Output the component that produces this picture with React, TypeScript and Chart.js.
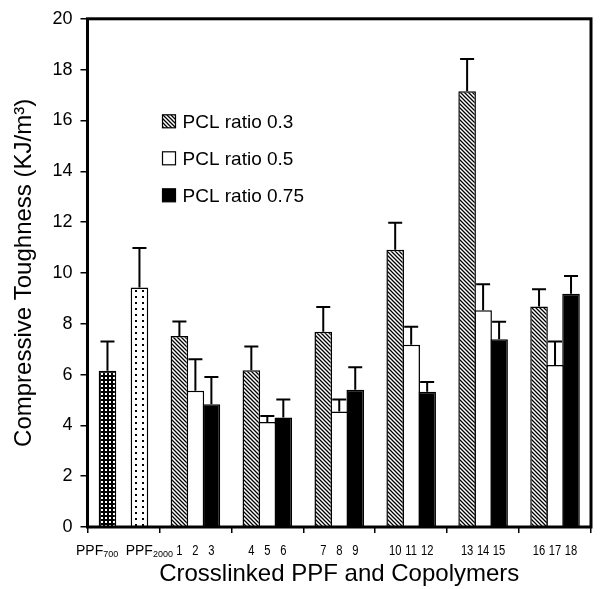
import React, { useEffect, useRef } from 'react';
import { Chart, registerables } from 'chart.js';

Chart.register(...registerables);

// ---- data ----
const categories = ['PPF', 'Set 1', 'Set 2', 'Set 3', 'Set 4', 'Set 5', 'Set 6'];
const seriesNames = ['PCL ratio 0.3', 'PCL ratio 0.5', 'PCL ratio 0.75'];
const ratio03 = [6.15, 7.52, 6.17, 7.68, 10.91, 17.15, 8.68];
const ratio03Err = [1.15, 0.57, 0.93, 0.98, 1.06, 1.27, 0.68];
const ratio05 = [null, 5.36, 4.13, 4.55, 7.17, 8.53, 6.38];
const ratio05Err = [null, 1.24, 0.24, 0.47, 0.71, 1.02, 0.92];
const ratio075 = [9.43, 4.83, 4.31, 5.4, 5.32, 7.39, 9.18];
const ratio075Err = [1.55, 1.07, 0.71, 0.89, 0.39, 0.69, 0.7];
// "_" marks the start of a subscript
const labels03 = ['PPF_700', '1', '4', '7', '10', '13', '16'];
const labels05 = ['', '2', '5', '8', '11', '14', '17'];
const labels075 = ['PPF_2000', '3', '6', '9', '12', '15', '18'];
const yMin = 0;
const yMax = 20;
const yStep = 2;
const xTitle = 'Crosslinked PPF and Copolymers';
const yTitle = 'Compressive Toughness (KJ/m³)';

const FONT = '"Liberation Sans", Arial, Helvetica, sans-serif';

function makeTile(w: number, h: number, draw: (c: CanvasRenderingContext2D) => void) {
  const cv = document.createElement('canvas');
  cv.width = w;
  cv.height = h;
  const c = cv.getContext('2d')!;
  draw(c);
  return cv;
}

function makePatterns(ctx: CanvasRenderingContext2D) {
  const hatchTile = makeTile(4, 4, (c) => {
    c.fillStyle = '#fff';
    c.fillRect(0, 0, 4, 4);
    c.strokeStyle = '#000';
    c.lineWidth = 1.3;
    c.beginPath();
    c.moveTo(-1, -1);
    c.lineTo(5, 5);
    c.moveTo(-1, 3);
    c.lineTo(1, 5);
    c.moveTo(3, -1);
    c.lineTo(5, 1);
    c.stroke();
  });
  const gridTile = makeTile(4, 4, (c) => {
    c.fillStyle = '#000';
    c.fillRect(0, 0, 4, 4);
    c.fillStyle = '#fff';
    c.fillRect(1, 1, 2, 2);
  });
  const dotTile = makeTile(7, 6, (c) => {
    c.fillStyle = '#fff';
    c.fillRect(0, 0, 7, 6);
    c.fillStyle = '#000';
    c.fillRect(2, 2, 2, 2);
  });
  return {
    hatch: ctx.createPattern(hatchTile, 'repeat')!,
    grid: ctx.createPattern(gridTile, 'repeat')!,
    dots: ctx.createPattern(dotTile, 'repeat')!,
  };
}

const errorBarsPlugin = {
  id: 'errorBars',
  afterDatasetsDraw(chart: any) {
    const ctx = chart.ctx;
    const y = chart.scales.y;
    chart.data.datasets.forEach((ds: any, di: number) => {
      const meta = chart.getDatasetMeta(di);
      meta.data.forEach((bar: any, i: number) => {
        const v = ds.data[i];
        const e = ds.errors ? ds.errors[i] : null;
        if (v == null || e == null) return;
        const top = y.getPixelForValue(v + e);
        ctx.save();
        ctx.strokeStyle = '#000';
        ctx.lineWidth = 2;
        ctx.beginPath();
        ctx.moveTo(bar.x, bar.y);
        ctx.lineTo(bar.x, top);
        ctx.moveTo(bar.x - 7, top);
        ctx.lineTo(bar.x + 7, top);
        ctx.stroke();
        ctx.restore();
      });
    });
  },
};

function drawBarLabel(ctx: CanvasRenderingContext2D, text: string, bar: any, di: number, y: number) {
  const parts = text.split('_');
  const main = parts[0];
  const sub = parts[1];
  if (!sub) {
    // condensed numeric label
    ctx.save();
    ctx.font = `14px ${FONT}`;
    ctx.textAlign = 'center';
    ctx.textBaseline = 'middle';
    ctx.translate(bar.x, y);
    ctx.scale(0.8, 1);
    ctx.fillText(main, 0, 0);
    ctx.restore();
    return;
  }
  ctx.save();
  ctx.textBaseline = 'middle';
  ctx.textAlign = 'left';
  ctx.font = `14px ${FONT}`;
  const wMain = ctx.measureText(main).width;
  ctx.font = `9px ${FONT}`;
  const wSub = ctx.measureText(sub).width;
  const total = wMain + wSub;
  const half = bar.width / 2;
  let start = bar.x - total / 2;
  if (total > bar.width * 1.8) {
    start = di === 0 ? bar.x + half + 2 - total : bar.x - half - 5;
  }
  ctx.font = `14px ${FONT}`;
  ctx.fillText(main, start, y);
  ctx.font = `9px ${FONT}`;
  ctx.fillText(sub, start + wMain, y + 4);
  ctx.restore();
}

const decorPlugin = {
  id: 'decor',
  afterDraw(chart: any) {
    const ctx = chart.ctx;
    const a = chart.chartArea;
    ctx.save();
    // frame
    ctx.strokeStyle = '#000';
    ctx.lineWidth = 3;
    ctx.strokeRect(a.left, a.top, a.right - a.left, a.bottom - a.top);

    // per-bar labels under the axis
    ctx.fillStyle = '#000';
    chart.data.datasets.forEach((ds: any, di: number) => {
      const meta = chart.getDatasetMeta(di);
      meta.data.forEach((bar: any, i: number) => {
        const text = ds.barLabels ? ds.barLabels[i] : '';
        if (!text) return;
        drawBarLabel(ctx, text, bar, di, a.bottom + 24);
      });
    });

    // legend
    const lx = a.left + 75;
    const ly0 = a.top + 102.5;
    const gap = 37;
    chart.data.datasets.forEach((ds: any, di: number) => {
      const cy = ly0 + di * gap;
      ctx.fillStyle = ds.legendFill;
      ctx.fillRect(lx, cy - 6.5, 13, 13);
      ctx.lineWidth = 1.2;
      ctx.strokeStyle = '#000';
      ctx.strokeRect(lx, cy - 6.5, 13, 13);
      ctx.fillStyle = '#000';
      ctx.font = `19px ${FONT}`;
      ctx.textAlign = 'left';
      ctx.textBaseline = 'middle';
      ctx.fillText(ds.label, lx + 20, cy + 1);
    });
    ctx.restore();
  },
};

export default function App() {
  const ref = useRef<HTMLCanvasElement | null>(null);

  useEffect(() => {
    const canvas = ref.current!;
    const ctx = canvas.getContext('2d')!;
    const p = makePatterns(ctx);

    const chart = new Chart(canvas, {
      type: 'bar',
      data: {
        labels: categories,
        datasets: [
          {
            label: seriesNames[0],
            data: ratio03,
            errors: ratio03Err,
            barLabels: labels03,
            backgroundColor: ratio03.map((_, i) => (i === 0 ? p.grid : p.hatch)),
            legendFill: p.hatch,
            borderColor: '#000',
            borderWidth: 1.5,
          },
          {
            label: seriesNames[1],
            data: ratio05,
            errors: ratio05Err,
            barLabels: labels05,
            backgroundColor: '#fff',
            legendFill: '#fff',
            borderColor: '#000',
            borderWidth: 1.5,
          },
          {
            label: seriesNames[2],
            data: ratio075,
            errors: ratio075Err,
            barLabels: labels075,
            backgroundColor: ratio075.map((_, i) => (i === 0 ? p.dots : '#000')),
            legendFill: '#000',
            borderColor: '#000',
            borderWidth: 1.5,
          },
        ] as any,
      },
      options: {
        responsive: false,
        animation: false,
        devicePixelRatio: 1,
        categoryPercentage: 0.667,
        barPercentage: 1.1,
        layout: { padding: { top: 11.5, right: 9, left: 0, bottom: 0 } },
        plugins: {
          legend: { display: false },
          tooltip: { enabled: false },
          title: { display: false },
        },
        scales: {
          x: {
            afterFit: (s: any) => {
              s.height = 62;
            },
            grid: {
              offset: true,
              drawOnChartArea: false,
              drawTicks: true,
              tickLength: 6,
              color: '#000',
              lineWidth: 1.5,
            },
            border: { display: false },
            ticks: { display: false },
            title: {
              display: true,
              text: xTitle,
              color: '#000',
              font: { family: FONT, size: 24 },
              padding: { top: 0, bottom: 0 },
            },
          },
          y: {
            min: yMin,
            max: yMax,
            afterFit: (s: any) => {
              s.width = 87.5;
            },
            ticks: {
              stepSize: yStep,
              color: '#000',
              padding: 8,
              font: { family: FONT, size: 18 },
            },
            grid: {
              drawOnChartArea: false,
              drawTicks: true,
              tickLength: 7,
              color: '#000',
              lineWidth: 1.5,
            },
            border: { display: false },
            title: {
              display: true,
              text: yTitle,
              color: '#000',
              font: { family: FONT, size: 24 },
              padding: { top: 10, bottom: 0 },
            },
          },
        },
      },
      plugins: [errorBarsPlugin, decorPlugin],
    } as any);

    return () => chart.destroy();
  }, []);

  return (
    <div style={{ position: 'fixed', left: 0, top: 0, width: 600, height: 589, background: '#fff' }}>
      <canvas ref={ref} width={600} height={589} style={{ display: 'block', width: 600, height: 589 }} />
    </div>
  );
}
